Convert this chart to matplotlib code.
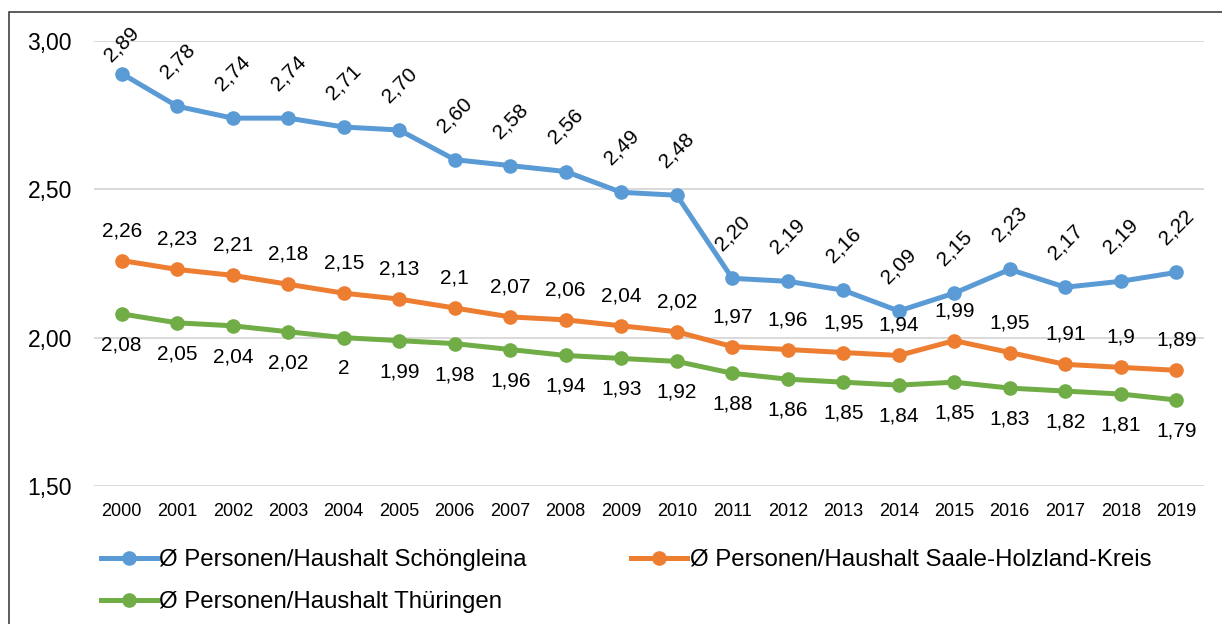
import numpy as np
import matplotlib.pyplot as plt
from matplotlib.patches import Rectangle

# values
jahre = [str(j) for j in range(2000, 2020)]
schoengleina = [2.89, 2.78, 2.74, 2.74, 2.71, 2.70, 2.60, 2.58, 2.56, 2.49,
                2.48, 2.20, 2.19, 2.16, 2.09, 2.15, 2.23, 2.17, 2.19, 2.22]
shk = [2.26, 2.23, 2.21, 2.18, 2.15, 2.13, 2.10, 2.07, 2.06, 2.04,
       2.02, 1.97, 1.96, 1.95, 1.94, 1.99, 1.95, 1.91, 1.90, 1.89]
thueringen = [2.08, 2.05, 2.04, 2.02, 2.00, 1.99, 1.98, 1.96, 1.94, 1.93,
              1.92, 1.88, 1.86, 1.85, 1.84, 1.85, 1.83, 1.82, 1.81, 1.79]
namen = ['Ø Personen/Haushalt Schöngleina',
         'Ø Personen/Haushalt Saale-Holzland-Kreis',
         'Ø Personen/Haushalt Thüringen']
y_ticks = [1.5, 2.0, 2.5, 3.0]

plt.rcParams['font.family'] = ['Liberation Sans', 'DejaVu Sans']

W, H = 1222, 624
fig = plt.figure(figsize=(W / 100, H / 100), dpi=100)
ax = fig.add_axes([94 / W, 1 - 486 / H, (1204 - 94) / W, (486 - 41) / H])

# outer frame (only left and top edge visible in the crop)
fig.patches.append(Rectangle((9 / W, -0.2), 1.5, 1.2 - 12 / H, transform=fig.transFigure,
                             fill=False, edgecolor='#303030', lw=1.1, clip_on=False))

x = np.arange(len(jahre))
blau, orange, gruen = '#5B9BD5', '#ED7D31', '#70AD47'
l1, = ax.plot(x, schoengleina, color=blau, lw=3.6, marker='o', ms=9.5, label=namen[0])
l2, = ax.plot(x, shk, color=orange, lw=3.6, marker='o', ms=9.5, label=namen[1])
l3, = ax.plot(x, thueringen, color=gruen, lw=3.6, marker='o', ms=9.5, label=namen[2])

def komma(s):
    return s.replace('.', ',')

fs = 15
for i, v in enumerate(schoengleina):
    dy = 21.6 if i == 0 else 32.4
    ax.annotate(komma('%.2f' % v), (i, v), xytext=(0, dy), textcoords='offset points',
                ha='center', va='center', rotation=45, rotation_mode='anchor', fontsize=fs)
for i, v in enumerate(shk):
    ax.annotate(komma('%g' % v), (i, v), xytext=(0, 21.6), textcoords='offset points',
                ha='center', va='center', fontsize=fs)
for i, v in enumerate(thueringen):
    ax.annotate(komma('%g' % v), (i, v), xytext=(0, -22.3), textcoords='offset points',
                ha='center', va='center', fontsize=fs)

ax.set_xlim(-0.5, len(jahre) - 0.5)
ax.set_ylim(1.5, 3.0)
ax.set_xticks(x)
ax.set_xticklabels(jahre, fontsize=13)
ax.set_yticks(y_ticks)
ax.set_yticklabels([komma('%.2f' % t) for t in y_ticks], fontsize=16.5)
ax.tick_params(axis='y', length=0, pad=16)
ax.tick_params(axis='x', length=0, pad=12)
ax.grid(axis='y', color='#D9D9D9', lw=1.4)
ax.set_axisbelow(True)
for s in ax.spines.values():
    s.set_visible(False)

fig.legend([l1, l3, l2], [namen[0], namen[2], namen[1]], ncol=2, frameon=False,
           loc='upper left', bbox_to_anchor=(101 / W, 1 - 549 / H), borderpad=0,
           borderaxespad=0, fontsize=17.3, handlelength=2.33, handletextpad=0.1,
           columnspacing=4.35, labelspacing=0.85)

fig.savefig('out.png', dpi=100)
